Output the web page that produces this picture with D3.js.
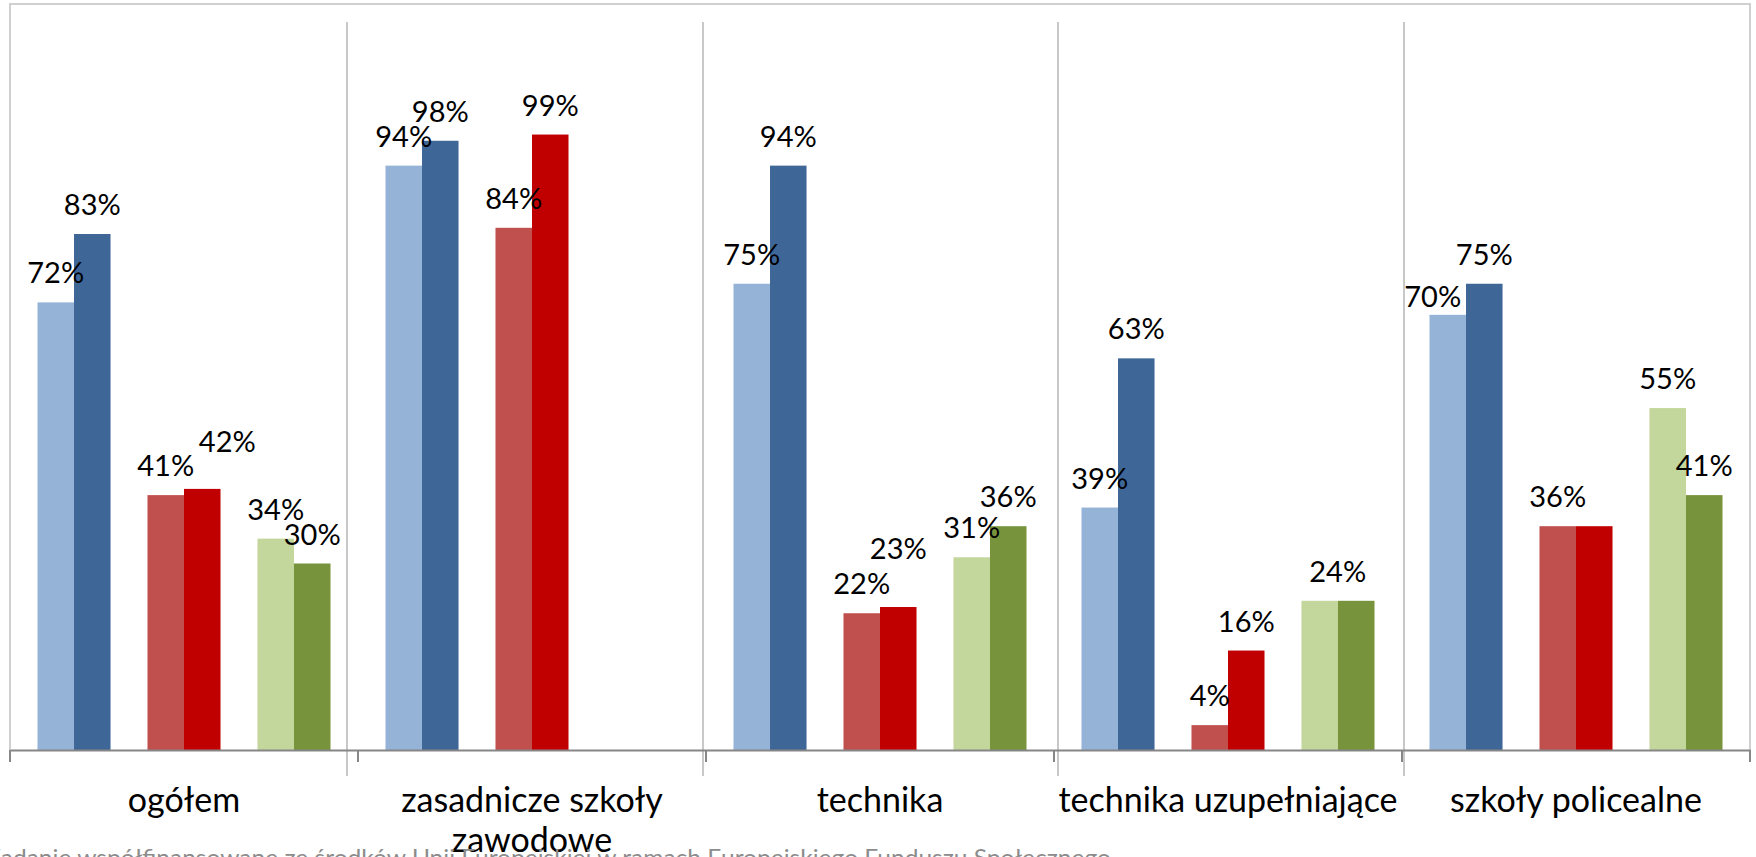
<!DOCTYPE html>
<html>
<head>
<meta charset="utf-8">
<script src="https://cdn.jsdelivr.net/npm/d3@7"></script>
<style>
  body { margin: 0; background: #fff; }
  text { font-family: Lato, "Open Sans", sans-serif; }
</style>
</head>
<body>
<div id="chart"></div>
<script>
// categories (x axis) and their tick labels, split into lines
var categories = ["ogółem", "zasadnicze szkoły zawodowe", "technika", "technika uzupełniające", "szkoły policealne"];
var tickLabels = [["ogółem"], ["zasadnicze szkoły", "zawodowe"], ["technika"], ["technika uzupełniające"], ["szkoły policealne"]];

// six series, drawn as three pairs (light / dark)
var blueLight  = [0.72, 0.94, 0.75, 0.39, 0.70];
var blueDark   = [0.83, 0.98, 0.94, 0.63, 0.75];
var redLight   = [0.41, 0.84, 0.22, 0.04, 0.36];
var redDark    = [0.42, 0.99, 0.23, 0.16, 0.36];
var greenLight = [0.34, null, 0.31, 0.24, 0.55];
var greenDark  = [0.30, null, 0.36, 0.24, 0.41];

var footerText = "Zadanie współfinansowane ze środków Unii Europejskiej w ramach Europejskiego Funduszu Społecznego";

var svgWidth = 1756;
var svgHeight = 857;

var margin = { top: 4, right: 6, bottom: 107, left: 10 };
var width = svgWidth - margin.left - margin.right;
var height = svgHeight - margin.top - margin.bottom;

var series = [
  { pair: 0, sub: 0, values: blueLight,  color: "#95b3d7" },
  { pair: 0, sub: 1, values: blueDark,   color: "#3e6697" },
  { pair: 1, sub: 0, values: redLight,   color: "#c0504d" },
  { pair: 1, sub: 1, values: redDark,    color: "#c00000" },
  { pair: 2, sub: 0, values: greenLight, color: "#c3d69b" },
  { pair: 2, sub: 1, values: greenDark,  color: "#77933c" }
];

// hand-placed data labels from the original (series index + category index)
var labelTweaks = {
  "3-0": { dx: 25, dy: -18 },
  "3-2": { dx: 0, dy: -29 },
  "0-4": { dx: -15, dy: 11 },
  "4-3": { dx: 18, dy: 0 },
  "5-3": { hide: true },
  "3-4": { hide: true }
};

var svg = d3.select("#chart")
  .append("svg")
  .attr("width", svgWidth)
  .attr("height", svgHeight);

var chartGroup = svg.append("g")
  .attr("transform", `translate(${margin.left}, ${margin.top})`);

var xScale = d3.scaleBand()
  .domain(categories)
  .range([0, width])
  .padding(0);

var pairScale = d3.scaleBand()
  .domain([0, 1, 2])
  .range([0, xScale.bandwidth()])
  .paddingInner(0.336)
  .paddingOuter(0.25);

var subScale = d3.scaleBand()
  .domain([0, 1])
  .range([0, pairScale.bandwidth()])
  .padding(0);

var yScale = d3.scaleLinear()
  .domain([0, 1.2])
  .range([height, 0]);

// footer (cut by the bottom edge, behind the labels)
svg.append("text")
  .attr("x", -14)
  .attr("y", 866)
  .attr("textLength", 1125)
  .attr("lengthAdjust", "spacingAndGlyphs")
  .attr("font-size", 24)
  .attr("fill", "#8c8c8c")
  .text(footerText);

// plot area frame (top, left, right)
chartGroup.append("path")
  .attr("d", `M0,${height}V0H${width}V${height}`)
  .attr("fill", "none")
  .attr("stroke", "#d0d0d0")
  .attr("stroke-width", 2);

// vertical dividers between categories
var dividerNudge = [-11, -3, 4, 2];
chartGroup.selectAll(".divider")
  .data(categories.slice(1))
  .enter()
  .append("line")
  .attr("class", "divider")
  .attr("x1", (d, i) => xScale(d) + dividerNudge[i])
  .attr("x2", (d, i) => xScale(d) + dividerNudge[i])
  .attr("y1", 18)
  .attr("y2", height + 26)
  .attr("stroke", "#c8c8c8")
  .attr("stroke-width", 2);

// bars
series.forEach(function(s, si) {
  var rows = categories.map((c, ci) => ({ cat: c, ci: ci, v: s.values[ci] }))
    .filter(d => d.v !== null);

  chartGroup.selectAll(".bar" + si)
    .data(rows)
    .enter()
    .append("rect")
    .attr("class", "bar" + si)
    .attr("x", d => xScale(d.cat) + pairScale(s.pair) + subScale(s.sub))
    .attr("y", d => yScale(d.v))
    .attr("width", subScale.bandwidth())
    .attr("height", d => height - yScale(d.v))
    .attr("fill", s.color);
});

// x axis
var bottomAxis = d3.axisBottom(xScale).tickSize(0).tickFormat("");
var xAxis = chartGroup.append("g")
  .attr("transform", `translate(0, ${height})`)
  .call(bottomAxis);
xAxis.select(".domain").attr("stroke", "#868686").attr("stroke-width", 2);

// tick marks on category boundaries
var boundaries = categories.map(c => xScale(c)).concat([width]);
xAxis.selectAll(".bound")
  .data(boundaries)
  .enter()
  .append("line")
  .attr("x1", d => d)
  .attr("x2", d => d)
  .attr("y1", 0)
  .attr("y2", 12)
  .attr("stroke", "#868686")
  .attr("stroke-width", 2);

// category labels
xAxis.selectAll(".cat-label")
  .data(tickLabels)
  .enter()
  .append("text")
  .attr("class", "cat-label")
  .attr("text-anchor", "middle")
  .attr("font-size", 34)
  .attr("fill", "#000")
  .attr("transform", (d, i) => `translate(${xScale(categories[i]) + xScale.bandwidth() / 2}, 62)`)
  .selectAll("tspan")
  .data(d => d)
  .enter()
  .append("tspan")
  .attr("x", 0)
  .attr("y", (d, i) => i * 40)
  .text(d => d);

// data labels
var fmt = d3.format(".0%");
series.forEach(function(s, si) {
  var rows = categories.map((c, ci) => ({ cat: c, ci: ci, v: s.values[ci], t: labelTweaks[si + "-" + ci] || {} }))
    .filter(d => d.v !== null && !d.t.hide);

  chartGroup.selectAll(".lbl" + si)
    .data(rows)
    .enter()
    .append("text")
    .attr("class", "lbl" + si)
    .attr("text-anchor", "middle")
    .attr("font-size", 29)
    .attr("fill", "#000")
    .attr("x", d => xScale(d.cat) + pairScale(s.pair) + subScale(s.sub) + subScale.bandwidth() / 2 + (d.t.dx || 0))
    .attr("y", d => yScale(d.v) - 19 + (d.t.dy || 0))
    .text(d => fmt(d.v));
});
</script>
</body>
</html>
